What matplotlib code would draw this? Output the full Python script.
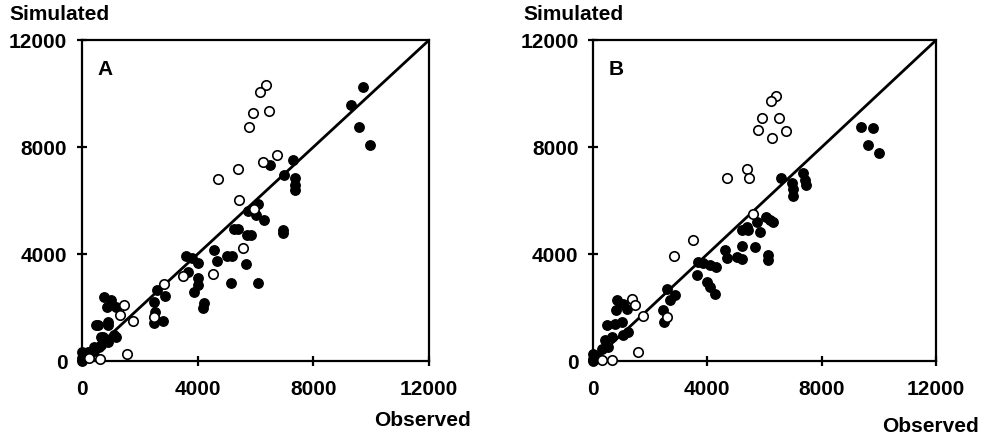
import numpy as np
import matplotlib.pyplot as plt

plt.rcParams['font.family'] = ['Liberation Sans', 'DejaVu Sans']

# panneau A : points ouverts (observé, simulé)
a_open_x = [6364, 6169, 5903, 6480, 5777, 6745, 6249, 5408, 4693, 5442, 5938, 5569,
            4543, 3482, 2848, 1464, 1326, 1752, 2490, 1557, 611, 254]
a_open_y = [10312, 10062, 9262, 9337, 8762, 7725, 7437, 7187, 6812, 6037, 5687, 4212,
            3250, 3187, 2887, 2087, 1737, 1512, 1662, 262, 75, 100]

# panneau A : points pleins
a_fill_x = [9708, 9305, 9570, 9962, 7287, 6514, 6975, 7368, 7368, 7368, 6076, 5730,
            6019, 6284, 5269, 5408, 5707, 5846, 6941, 6941, 4577, 4670, 5016, 5177,
            5661, 5154, 6099, 3597, 3793, 4024, 3655, 4024, 4001, 3862, 4231, 4174,
            2594, 2871, 2502, 2525, 2502, 2813, 772, 1003, 865, 1176, 542, 888,
            657, 1176, 427, 657, 196, 0, 0, 0, 254, 484, 888, 715, 1118, 888, 599, 426]
a_fill_y = [10262, 9562, 8762, 8100, 7512, 7325, 6975, 6850, 6600, 6412, 5887, 5600,
            5475, 5287, 4937, 4937, 4700, 4700, 4912, 4787, 4137, 3725, 3912, 3912,
            3637, 2912, 2912, 3937, 3850, 3662, 3350, 3100, 2850, 2600, 2187, 1975,
            2662, 2437, 2225, 1850, 1412, 1512, 2412, 2287, 2012, 2037, 1350, 1350,
            912, 912, 537, 600, 350, 350, 100, 0, 225, 1350, 1475, 912, 975, 725, 537, 387]

# panneau B : points ouverts
b_open_x = [6401, 6226, 5900, 6495, 5783, 6740, 6273, 5399, 5469, 4676, 5585, 3486,
            2845, 1761, 1353, 1469, 2600, 1586, 653, 303]
b_open_y = [9900, 9737, 9087, 9087, 8650, 8612, 8337, 7175, 6837, 6837, 5487, 4525,
            3937, 1675, 2312, 2087, 1640, 337, 50, 50]

# panneau B : points pleins
b_fill_x = [9363, 9783, 9631, 10004, 6565, 7357, 7416, 7451, 6949, 7008, 6984, 6052,
            6308, 6191, 5725, 5841, 5375, 5201, 5434, 5667, 6133, 6133, 5224, 5026,
            5201, 4618, 4676, 3685, 3859, 4093, 4303, 3626, 3976, 4093, 4268, 2577,
            2868, 2693, 2460, 2495, 828, 1061, 805, 1178, 478, 770, 1003, 420, 653,
            1061, 1236, 303, 536, 0, 0, 0, 128]
b_fill_y = [8775, 8712, 8087, 7775, 6837, 7025, 6775, 6587, 6675, 6425, 6175, 5400,
            5212, 5275, 5212, 4837, 5025, 4900, 4900, 4250, 3962, 3775, 4300, 3900,
            3800, 4150, 3837, 3712, 3650, 3587, 3525, 3212, 2962, 2775, 2525, 2712,
            2462, 2275, 1900, 1462, 2275, 2150, 1900, 1962, 1337, 1400, 1462, 775, 900,
            962, 1087, 462, 525, 275, 87, 0, 150]

ticks = [0, 4000, 8000, 12000]
tick_labels = ['0', '4000', '8000', '12000']

fig = plt.figure(figsize=(9.91, 4.43), dpi=100)
axA = fig.add_axes([0.0827, 0.185, 0.350, 0.724])
axB = fig.add_axes([0.5984, 0.185, 0.346, 0.724])


def panneau(ax, ox, oy, fx, fy, lettre):
    ax.plot([0, 12000], [0, 12000], color='black', lw=2, zorder=1)
    ax.plot(fx, fy, 'o', color='black', ms=6.8, zorder=2, clip_on=False)
    ax.plot(ox, oy, 'o', mfc='white', mec='black', mew=1.2, ms=6.8, zorder=3, clip_on=False)
    ax.set_xlim(0, 12000)
    ax.set_ylim(0, 12000)
    ax.set_xticks(ticks)
    ax.set_yticks(ticks)
    ax.set_xticklabels(tick_labels)
    ax.set_yticklabels(tick_labels)
    for s in ax.spines.values():
        s.set_linewidth(1.6)
    ax.tick_params(direction='inout', length=7, width=1.6, labelsize=15)
    ax.tick_params(axis='x', pad=10)
    ax.tick_params(axis='y', pad=7)
    for lab in ax.get_xticklabels() + ax.get_yticklabels():
        lab.set_fontweight('bold')
    ax.text(800, 10900, lettre, fontsize=15, fontweight='bold', ha='center', va='center')


panneau(axA, a_open_x, a_open_y, a_fill_x, a_fill_y, 'A')
panneau(axB, b_open_x, b_open_y, b_fill_x, b_fill_y, 'B')

fig.text(9 / 991, 1 - 14 / 443, 'Simulated', fontsize=15, fontweight='bold', ha='left', va='center')
fig.text(523 / 991, 1 - 14 / 443, 'Simulated', fontsize=15, fontweight='bold', ha='left', va='center')
fig.text(471 / 991, 1 - 421 / 443, 'Observed', fontsize=15, fontweight='bold', ha='right', va='center')
fig.text(979 / 991, 1 - 427 / 443, 'Observed', fontsize=15, fontweight='bold', ha='right', va='center')

fig.savefig('out.png', dpi=100)
